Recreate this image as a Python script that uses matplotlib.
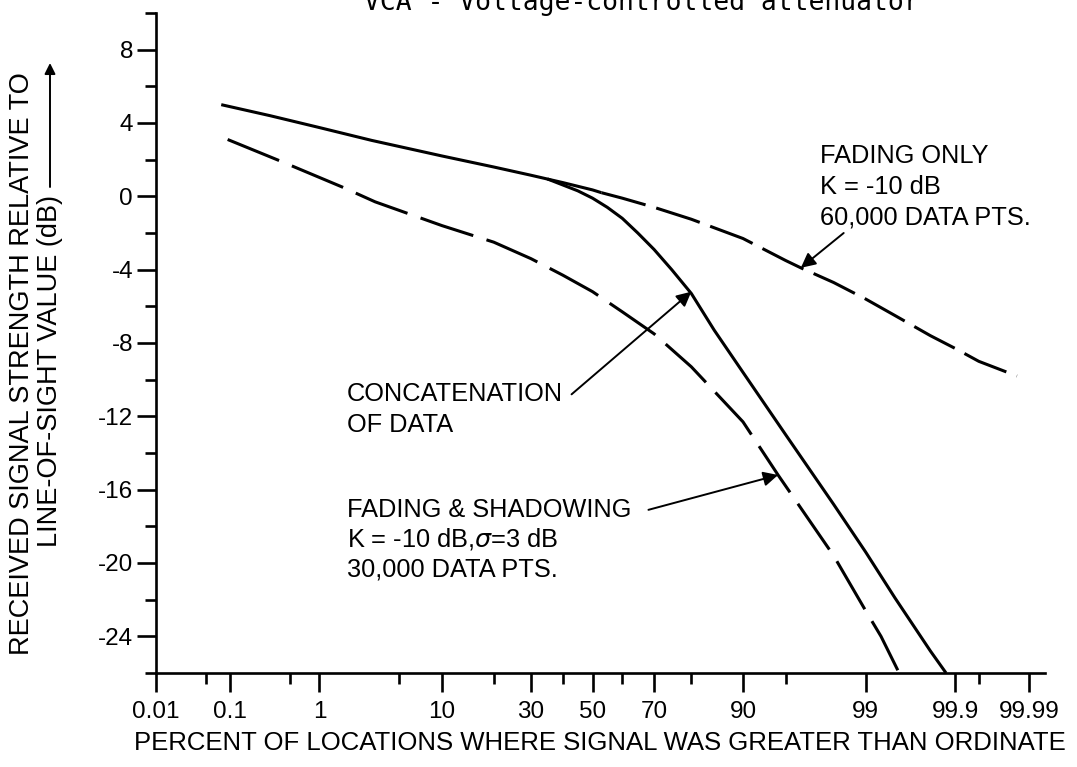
import numpy as np
import matplotlib
matplotlib.use("Agg")
import matplotlib.pyplot as plt
from matplotlib.patches import FancyArrowPatch
from statistics import NormalDist

plt.rcParams['lines.scale_dashes'] = False

# ---------------- data (percent, dB) ----------------
trunk_pct = [0.078, 0.3, 1, 3, 10, 20, 30, 40, 50, 53]
trunk_db = [5.0, 4.4, 3.75, 3.05, 2.2, 1.6, 1.15, 0.75, 0.35, 0.2]

fading_pct = [53, 60, 70, 80, 90, 95, 96.2, 98, 99, 99.5, 99.8, 99.9, 99.95, 99.985]
fading_db = [0.2, -0.1, -0.6, -1.25, -2.3, -3.5, -3.9, -4.7, -5.6, -6.5, -7.6, -8.3, -9.0, -9.8]

concat_pct = [35, 45, 50, 55, 60, 65, 70, 75, 80, 85, 90, 95, 98, 99, 99.5, 99.8, 99.87]
concat_db = [0.95, 0.3, -0.1, -0.6, -1.2, -2.0, -2.9, -4.0, -5.3, -7.3, -9.6, -13.0, -16.8, -19.4, -21.9, -24.8, -26.0]

shadow_pct = [0.094, 0.38, 1.66, 3.2, 10, 20, 30, 40, 50, 60, 70, 80, 90, 94.3, 98, 99, 99.3, 99.55]
shadow_db = [3.1, 1.95, 0.5, -0.3, -1.6, -2.5, -3.4, -4.3, -5.2, -6.3, -7.5, -9.3, -12.3, -15.2, -19.6, -22.6, -24.0, -26.0]

xtick_vals = [0.01, 0.1, 1, 10, 30, 50, 70, 90, 99, 99.9, 99.99]
xtick_labels = ["0.01", "0.1", "1", "10", "30", "50", "70", "90", "99", "99.9", "99.99"]
xminor_vals = [0.05, 0.5, 5, 20, 40, 60, 80, 95, 99.95]
ytick_vals = [-24, -20, -16, -12, -8, -4, 0, 4, 8]
ytick_labels = ["-24", "-20", "-16", "-12", "-8", "-4", "0", "4", "8"]
yminor_vals = [-26, -22, -18, -14, -10, -6, -2, 2, 6, 10]

# ---------------- probability scale ----------------
_nd = NormalDist()


def fwd(p):
    p = np.clip(np.asarray(p, dtype=float), 1e-7, 100 - 1e-7)
    return np.vectorize(lambda v: _nd.inv_cdf(v / 100.0))(p)


def inv(z):
    z = np.asarray(z, dtype=float)
    return np.vectorize(lambda v: _nd.cdf(v) * 100.0)(z)


W, H = 1077, 767
fig = plt.figure(figsize=(W / 100, H / 100), dpi=100)
ax_l, ax_r, ax_t, ax_b = 156, 1045, 13, 673
ax = fig.add_axes([ax_l / W, 1 - ax_b / H, (ax_r - ax_l) / W, (ax_b - ax_t) / H])
ax.set_xscale('function', functions=(fwd, inv))
ax.set_xlim(0.01, 99.9942)
ax.set_ylim(-26, 10)

for s in ['top', 'right']:
    ax.spines[s].set_visible(False)
for s in ['left', 'bottom']:
    ax.spines[s].set_linewidth(1.9)

fam = ['Liberation Sans', 'DejaVu Sans']
ax.set_xticks(xtick_vals)
ax.set_xticklabels(xtick_labels, fontfamily=fam)
ax.set_xticks(xminor_vals, minor=True)
ax.set_yticks(ytick_vals)
ax.set_yticklabels(ytick_labels, fontfamily=fam)
ax.set_yticks(yminor_vals, minor=True)

ax.tick_params(axis='both', which='major', length=13.5, width=1.9, labelsize=17.5,
               direction='out')
ax.tick_params(axis='x', which='major', pad=7)
ax.tick_params(axis='y', which='major', pad=3)
ax.tick_params(axis='both', which='minor', length=8, width=1.9, direction='out')

lw = 2.2
ax.plot(trunk_pct, trunk_db, color='k', lw=lw, solid_capstyle='butt')
ax.plot(concat_pct, concat_db, color='k', lw=lw, solid_capstyle='butt', clip_on=False)
l1, = ax.plot(fading_pct, fading_db, color='k', lw=lw, dash_capstyle='butt')
l1.set_dashes([33, 8])
l2, = ax.plot(shadow_pct, shadow_db, color='k', lw=lw, dash_capstyle='butt', clip_on=False)
l2.set_dashes([40, 10])

# ---------------- annotations ----------------
tfs = 18.3


def px_text(x, y, s, **kw):
    fig.text(x / W, 1 - y / H, s, fontsize=tfs, family=fam, ha='left', va='baseline', **kw)


px_text(820, 163, "FADING ONLY")
px_text(820, 194, "K = -10 dB")
px_text(820, 225, "60,000 DATA PTS.")
px_text(347, 401, "CONCATENATION")
px_text(347, 432, "OF DATA")
px_text(347, 517, "FADING & SHADOWING")
px_text(347, 546, "K = -10 dB,$\\sigma$=3 dB")
px_text(347, 577, "30,000 DATA PTS.")

arrow = dict(arrowstyle='-|>', lw=1.4, color='k', mutation_scale=22, shrinkA=0, shrinkB=0)
ax.annotate("", xy=(96.2, -3.9), xytext=(98.38, -2.0), arrowprops=arrow)
ax.annotate("", xy=(80.0, -5.2), xytext=(42.9, -10.8), arrowprops=arrow)
ax.annotate("", xy=(94.3, -15.2), xytext=(68.3, -17.1), arrowprops=arrow)

# axis labels
lfs = 19.5
fig.text(600 / W, 1 - 743 / H, "PERCENT OF LOCATIONS WHERE SIGNAL WAS GREATER THAN ORDINATE",
         fontsize=18.5, family=fam, ha='center', va='center')
fig.text(22 / W, 1 - 364 / H, "RECEIVED SIGNAL STRENGTH RELATIVE TO", rotation=90,
         fontsize=lfs, family=fam, ha='center', va='center')
fig.text(50 / W, 1 - 195 / H, "LINE-OF-SIGHT VALUE (dB)", rotation=90,
         fontsize=lfs, family=fam, ha='center', va='top')
fig.add_artist(FancyArrowPatch(
    (50 / W, 1 - 187 / H), (50 / W, 1 - 63 / H), transform=fig.transFigure,
    arrowstyle='-|>', mutation_scale=16, lw=1.4, color='k', shrinkA=0, shrinkB=0))

fig.text(642 / W, 1 - 10 / H, "VCA - Voltage-controlled attenuator", fontsize=19,
         family='DejaVu Sans Mono', ha='center', va='baseline')

fig.savefig("out.png", dpi=100, facecolor='white')
